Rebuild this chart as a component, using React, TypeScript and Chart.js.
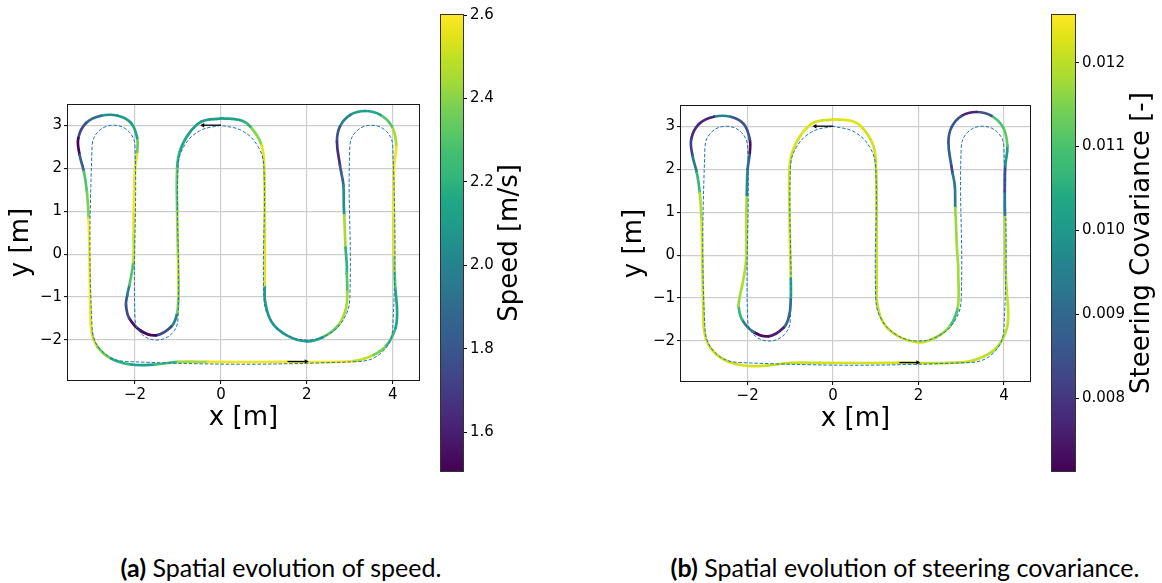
import React, { useEffect, useRef } from 'react';
import { Chart, registerables } from 'chart.js';

Chart.register(...registerables);
Chart.defaults.font.family = "'DejaVu Sans', sans-serif";
Chart.defaults.color = '#000';

// ---- data ----
const trajX = [0.01, -0.46, -0.77, -0.96, -1.02, -1.02, -1.0, -0.99, -0.99, -1.03, -1.16, -1.51, -1.86, -2.13, -2.21, -2.18, -2.13, -2.04, -2.03, -2.03, -2.02, -2.0, -1.95, -1.95, -2.09, -2.4, -2.79, -3.14, -3.32, -3.29, -3.19, -3.12, -3.08, -3.06, -3.04, -3.01, -2.87, -2.56, -2.09, -1.55, -1.0, -0.3, 1.53, 3.08, 3.55, 3.86, 4.06, 4.1, 4.06, 4.04, 4.03, 4.02, 4.02, 4.03, 4.08, 3.98, 3.71, 3.36, 3.01, 2.77, 2.7, 2.77, 2.8, 2.85, 2.86, 2.87, 2.89, 2.9, 2.93, 2.93, 2.94, 2.91, 2.73, 2.38, 2.0, 1.53, 1.18, 1.03, 1.02, 1.02, 1.0, 0.93, 0.68, 0.44, 0.01];
const trajY = [3.16, 3.08, 2.77, 2.38, 2.0, 0.99, -0.02, -0.55, -1.03, -1.42, -1.69, -1.89, -1.79, -1.5, -1.19, -0.95, -0.72, -0.18, 0.45, 0.99, 1.4, 2.0, 2.38, 2.7, 3.05, 3.22, 3.22, 3.05, 2.7, 2.31, 1.92, 1.45, 0.83, -0.1, -1.19, -1.81, -2.16, -2.43, -2.57, -2.57, -2.51, -2.51, -2.51, -2.49, -2.35, -2.12, -1.73, -1.34, -0.8, -0.4, -0.02, 0.94, 1.48, 2.07, 2.54, 2.97, 3.24, 3.33, 3.24, 2.97, 2.62, 2.07, 1.9, 1.61, 1.1, 0.91, 0.37, 0.15, -0.26, -0.45, -0.88, -1.27, -1.66, -1.93, -2.03, -1.89, -1.58, -1.11, -0.72, 1.14, 2.15, 2.58, 2.97, 3.12, 3.16];
const speedVals = [2.1, 2.12, 2.15, 2.2, 2.35, 2.45, 2.5, 2.45, 2.38, 2.0, 1.75, 1.52, 1.55, 1.75, 1.8, 2.0, 2.3, 2.5, 2.55, 2.58, 2.57, 2.55, 2.35, 2.15, 2.1, 2.05, 1.9, 1.75, 1.52, 1.85, 2.3, 2.38, 2.6, 2.6, 2.58, 2.5, 2.38, 2.2, 2.12, 2.25, 2.45, 2.58, 2.6, 2.5, 2.38, 2.25, 2.15, 2.15, 2.3, 2.45, 2.55, 2.58, 2.58, 2.57, 2.45, 2.3, 2.15, 2.1, 2.0, 1.8, 1.65, 1.8, 1.85, 2.05, 2.05, 2.45, 2.45, 2.2, 2.2, 2.3, 2.45, 2.45, 2.35, 2.15, 2.12, 2.12, 2.12, 2.12, 2.55, 2.55, 2.55, 2.4, 2.2, 2.12, 2.1];
const covVals = [0.0122, 0.0123, 0.0122, 0.0122, 0.0122, 0.0122, 0.0121, 0.0104, 0.0091, 0.0088, 0.0076, 0.0073, 0.0093, 0.0107, 0.0117, 0.0118, 0.0119, 0.012, 0.012, 0.0118, 0.0097, 0.0088, 0.0074, 0.0085, 0.0085, 0.0095, 0.0077, 0.0078, 0.0082, 0.0093, 0.0107, 0.0119, 0.0122, 0.0122, 0.0122, 0.0122, 0.0122, 0.0122, 0.0122, 0.0121, 0.0121, 0.0122, 0.0121, 0.0121, 0.012, 0.012, 0.0121, 0.0121, 0.012, 0.012, 0.0119, 0.0094, 0.0082, 0.01, 0.0112, 0.011, 0.0085, 0.0077, 0.0085, 0.0086, 0.0088, 0.0082, 0.0094, 0.0095, 0.0117, 0.0117, 0.0118, 0.0118, 0.0118, 0.0118, 0.0118, 0.011, 0.0117, 0.0121, 0.0122, 0.0122, 0.0121, 0.0121, 0.0121, 0.0121, 0.0122, 0.0122, 0.0123, 0.0123, 0.0122];

const refX = [0, -0.5, -0.866, -1, -1, -1.146, -1.5, -1.854, -2, -2, -2.146, -2.5, -2.854, -3, -3, -2.766, -2.2, 3.2, 3.766, 4, 4, 3.854, 3.5, 3.146, 3, 3, 2.866, 2.5, 2, 1.5, 1.134, 1, 1, 0.866, 0.5, 0];
const refY = [3, 2.866, 2.5, 2, -1.5, -1.854, -2, -1.854, -1.5, 2.5, 2.854, 3, 2.854, 2.5, -1.7, -2.266, -2.5, -2.5, -2.266, -1.7, 2.5, 2.854, 3, 2.854, 2.5, -1, -1.5, -1.866, -2, -1.866, -1.5, -1, 2, 2.5, 2.866, 3];

const startArrowX = [0, -0.42];
const startArrowY = [3, 3];
const endArrowX = [1.55, 1.98];
const endArrowY = [-2.5, -2.5];

const xTicks = [-2, 0, 2, 4];
const yTicks = [-2, -1, 0, 1, 2, 3];
const speedTicks = [1.6, 1.8, 2.0, 2.2, 2.4, 2.6];
const covTicks = [0.008, 0.009, 0.01, 0.011, 0.012];
const speedRange = [1.507, 2.6];
const covRange = [0.00713, 0.01257];
const xRange = [-3.56, 4.61];
const yRange = [-2.93, 3.47];

// ---- viridis colormap ----
const VIRIDIS = ['#440154', '#471365', '#482475', '#46337f', '#414487', '#3b528b', '#355f8d', '#31688e', '#2a788e', '#26828e', '#21918c', '#1f9e89', '#22a884', '#35b779', '#44bf70', '#5ec962', '#7ad151', '#a0da39', '#bddf26', '#dfe318', '#fde725'];
const hexRgb = (h: string) => [parseInt(h.slice(1, 3), 16), parseInt(h.slice(3, 5), 16), parseInt(h.slice(5, 7), 16)];
const VRGB = VIRIDIS.map(hexRgb);
function viridis(t: number) {
  const c = Math.max(0, Math.min(1, t)) * (VRGB.length - 1);
  const i = Math.min(VRGB.length - 2, Math.floor(c));
  const f = c - i;
  const a = VRGB[i], b = VRGB[i + 1];
  return `rgb(${Math.round(a[0] + (b[0] - a[0]) * f)},${Math.round(a[1] + (b[1] - a[1]) * f)},${Math.round(a[2] + (b[2] - a[2]) * f)})`;
}

const fmtInt = (v: number) => (v < 0 ? '\u2212' + Math.abs(v) : String(v));

const framePlugin = {
  id: 'frame',
  afterDraw(chart: any) {
    const { ctx, chartArea: a } = chart;
    ctx.save();
    ctx.strokeStyle = '#1a1a1a';
    ctx.lineWidth = 1;
    ctx.strokeRect(Math.round(a.left) - 0.5, Math.round(a.top) - 0.5, Math.round(a.right - a.left) + 1, Math.round(a.bottom - a.top) + 1);
    ctx.restore();
  },
};

function mainConfig(vals: number[], range: number[], padRight: number): any {
  const norm = (v: number) => (v - range[0]) / (range[1] - range[0]);
  const pts = (xs: number[], ys: number[]) => xs.map((x, i) => ({ x, y: ys[i] }));
  return {
    type: 'scatter',
    data: {
      datasets: [
        { data: pts(startArrowX, startArrowY), showLine: true, borderColor: '#000', borderWidth: 1.3, pointRadius: [0, 2.6], pointStyle: 'triangle', pointRotation: -90, pointBackgroundColor: '#000', pointBorderColor: '#000', pointBorderWidth: 0, order: 0 },
        { data: pts(endArrowX, endArrowY), showLine: true, borderColor: '#000', borderWidth: 1.3, pointRadius: [0, 2.6], pointStyle: 'triangle', pointRotation: 90, pointBackgroundColor: '#000', pointBorderColor: '#000', pointBorderWidth: 0, order: 0 },
        { data: pts(refX, refY), showLine: true, borderColor: '#1f77b4', borderWidth: 1, borderDash: [3.5, 1.8], pointRadius: 0, tension: 0.4, order: 1 },
        {
          data: pts(trajX, trajY), showLine: true, borderWidth: 2.7, borderCapStyle: 'round', borderJoinStyle: 'round', pointRadius: 0, tension: 0.4, order: 2,
          borderColor: viridis(norm(vals[0])),
          segment: { borderColor: (c: any) => viridis(norm(vals[c.p0DataIndex])) },
        },
      ],
    },
    options: {
      responsive: false, animation: false, events: [],
      layout: { padding: { top: 20, right: padRight, left: 0, bottom: 0 } },
      plugins: { legend: { display: false }, tooltip: { enabled: false } },
      scales: {
        x: {
          type: 'linear', min: xRange[0], max: xRange[1],
          afterBuildTicks: (s: any) => { s.ticks = xTicks.map((value) => ({ value })); },
          afterFit: (s: any) => { s.height = 65; },
          grid: { color: '#cdcdcd', lineWidth: 1.2, tickColor: '#000', tickLength: 4, tickWidth: 1 },
          border: { display: false },
          ticks: { color: '#000', font: { size: 15 }, padding: 2, maxRotation: 0, autoSkip: false, callback: (v: number) => fmtInt(v) },
          title: { display: true, text: 'x [m]', color: '#000', font: { size: 26 }, padding: { top: 0, bottom: 11 } },
        },
        y: {
          type: 'linear', min: yRange[0], max: yRange[1],
          afterBuildTicks: (s: any) => { s.ticks = yTicks.map((value) => ({ value })); },
          afterFit: (s: any) => { s.width = 68; },
          grid: { color: '#cdcdcd', lineWidth: 1.2, tickColor: '#000', tickLength: 4, tickWidth: 1 },
          border: { display: false },
          ticks: { color: '#000', font: { size: 15 }, padding: 2, autoSkip: false, callback: (v: number) => fmtInt(v) },
          title: { display: true, text: 'y [m]', color: '#000', font: { size: 26 }, padding: { top: 6, bottom: 0 } },
        },
      },
    },
    plugins: [framePlugin],
  };
}

function cbarConfig(range: number[], ticks: number[], digits: number, label: string, labelX: number, axisWidth: number): any {
  const plugin = {
    id: 'cbar',
    beforeDraw(chart: any) {
      const { ctx, chartArea: a } = chart;
      const g = ctx.createLinearGradient(0, a.bottom, 0, a.top);
      VIRIDIS.forEach((c, i) => g.addColorStop(i / (VIRIDIS.length - 1), c));
      ctx.save();
      ctx.fillStyle = g;
      ctx.fillRect(a.left, a.top, a.right - a.left, a.bottom - a.top);
      ctx.restore();
    },
    afterDraw(chart: any) {
      const { ctx, chartArea: a } = chart;
      ctx.save();
      ctx.strokeStyle = '#333';
      ctx.lineWidth = 1;
      ctx.strokeRect(Math.round(a.left) - 0.5, Math.round(a.top) - 0.5, Math.round(a.right - a.left) + 1, Math.round(a.bottom - a.top) + 1);
      ctx.translate(labelX, (a.top + a.bottom) / 2);
      ctx.rotate(-Math.PI / 2);
      ctx.fillStyle = '#000';
      ctx.font = "26px 'DejaVu Sans', sans-serif";
      ctx.textAlign = 'center';
      ctx.textBaseline = 'middle';
      ctx.fillText(label, 0, 0);
      ctx.restore();
    },
  };
  return {
    type: 'scatter',
    data: { datasets: [] },
    options: {
      responsive: false, animation: false, events: [],
      layout: { padding: { left: 11, top: 15, bottom: 19, right: 0 } },
      plugins: { legend: { display: false }, tooltip: { enabled: false } },
      scales: {
        x: { display: false, min: 0, max: 1 },
        y: {
          type: 'linear', position: 'right', min: range[0], max: range[1],
          afterBuildTicks: (s: any) => { s.ticks = ticks.map((value) => ({ value })); },
          afterFit: (s: any) => { s.width = axisWidth; },
          grid: { drawOnChartArea: false, tickColor: '#000', tickLength: 4, tickWidth: 1 },
          border: { display: false },
          ticks: { color: '#000', font: { size: 15 }, padding: 3, autoSkip: false, callback: (v: number) => v.toFixed(digits) },
        },
      },
    },
    plugins: [plugin],
  };
}

export default function App() {
  const r1 = useRef<HTMLCanvasElement>(null);
  const r2 = useRef<HTMLCanvasElement>(null);
  const r3 = useRef<HTMLCanvasElement>(null);
  const r4 = useRef<HTMLCanvasElement>(null);
  useEffect(() => {
    const charts = [
      new Chart(r1.current as HTMLCanvasElement, mainConfig(speedVals, speedRange, 11)),
      new Chart(r2.current as HTMLCanvasElement, cbarConfig(speedRange, speedTicks, 1, 'Speed [m/s]', 80, 87)),
      new Chart(r3.current as HTMLCanvasElement, mainConfig(covVals, covRange, 13)),
      new Chart(r4.current as HTMLCanvasElement, cbarConfig(covRange, covTicks, 3, 'Steering Covariance [-]', 101, 87)),
    ];
    return () => charts.forEach((c) => c.destroy());
  }, []);
  const cap: React.CSSProperties = { position: 'absolute', top: 552, fontFamily: "Lato, 'Open Sans', sans-serif", fontSize: 25, lineHeight: '30px', whiteSpace: 'nowrap', transform: 'translateX(-50%)', color: '#000' };
  return (
    <div style={{ position: 'absolute', left: 0, top: 0, width: 1162, height: 583, background: '#fff', overflow: 'hidden' }}>
      <canvas ref={r1} width={430} height={360} style={{ position: 'absolute', left: 0, top: 85, width: 430, height: 360 }} />
      <canvas ref={r2} width={120} height={490} style={{ position: 'absolute', left: 430, top: 0, width: 120, height: 490 }} />
      <canvas ref={r3} width={430} height={360} style={{ position: 'absolute', left: 613, top: 86, width: 430, height: 360 }} />
      <canvas ref={r4} width={121} height={490} style={{ position: 'absolute', left: 1041, top: 0, width: 121, height: 490 }} />
      <div style={{ ...cap, left: 281 }}><b>(a)</b> Spatial evolution of speed.</div>
      <div style={{ ...cap, left: 905 }}><b>(b)</b> Spatial evolution of steering covariance.</div>
    </div>
  );
}
